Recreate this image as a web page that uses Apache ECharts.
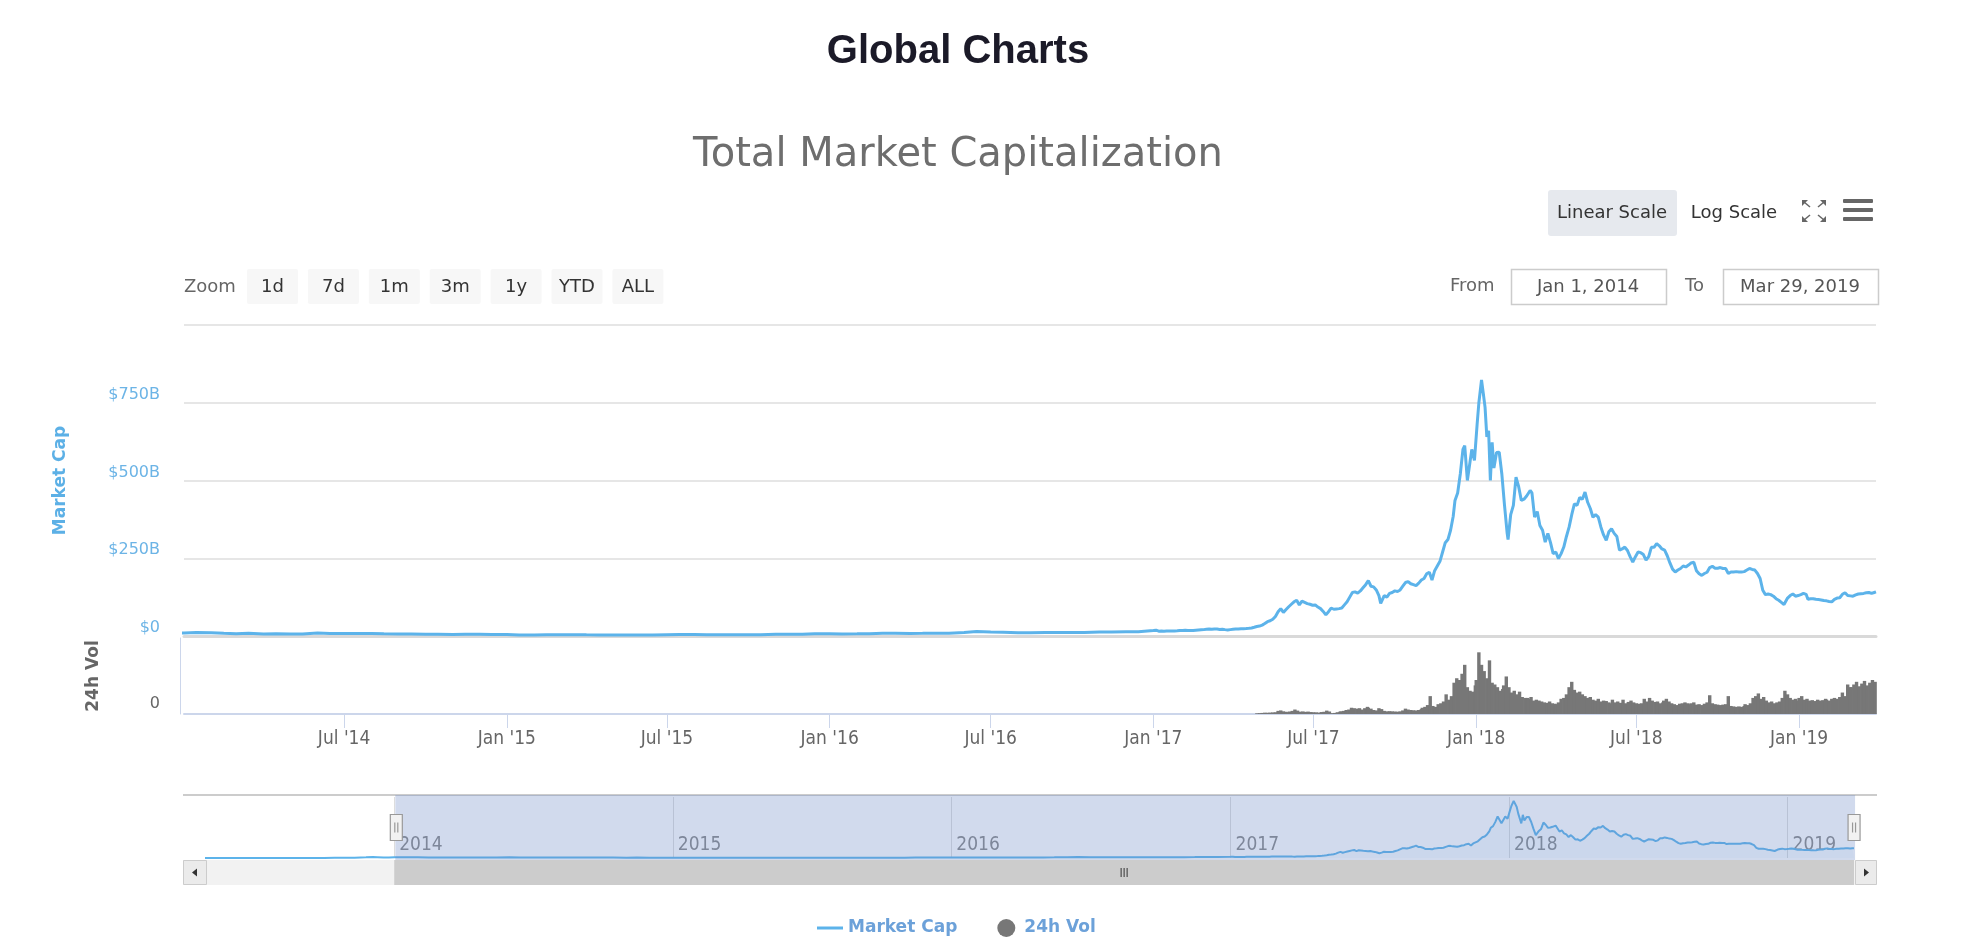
<!DOCTYPE html>
<html><head><meta charset="utf-8">
<script src="https://cdn.jsdelivr.net/npm/echarts@6/dist/echarts.min.js"></script>
<style>html,body{margin:0;padding:0;background:#fff;}#c{width:1964px;height:941px;}</style>
</head><body><div id="c"></div>
<script>
// ---------------- DATA ----------------
const capDates = [
 '2013-04-28','2013-05-15','2013-06-01','2013-06-15','2013-07-01','2013-07-15','2013-08-01','2013-08-15','2013-09-01','2013-09-15','2013-10-01','2013-10-15','2013-11-01','2013-11-10','2013-11-18','2013-11-25','2013-12-04','2013-12-10','2013-12-18','2013-12-25',
 '2014-01-01','2014-01-15','2014-02-01','2014-02-15','2014-03-01','2014-03-15','2014-04-01','2014-04-15','2014-05-01','2014-05-15','2014-06-01','2014-06-15','2014-07-01','2014-07-15','2014-08-01','2014-08-15','2014-09-01','2014-09-15','2014-10-01','2014-10-15','2014-11-01','2014-11-15','2014-12-01','2014-12-15',
 '2015-01-01','2015-01-15','2015-02-01','2015-02-15','2015-03-01','2015-03-15','2015-04-01','2015-04-15','2015-05-01','2015-05-15','2015-06-01','2015-06-15','2015-07-01','2015-07-15','2015-08-01','2015-08-15','2015-09-01','2015-09-15','2015-10-01','2015-10-15','2015-11-01','2015-11-15','2015-12-01','2015-12-15',
 '2016-01-01','2016-01-15','2016-02-01','2016-02-15','2016-03-01','2016-03-15','2016-04-01','2016-04-15','2016-05-01','2016-05-15','2016-06-01','2016-06-15','2016-07-01','2016-07-15','2016-08-01','2016-08-15','2016-09-01','2016-09-15','2016-10-01','2016-10-15','2016-11-01','2016-11-15','2016-12-01','2016-12-15',
 '2017-01-01','2017-01-04','2017-01-07','2017-01-10','2017-01-13','2017-01-16','2017-01-19','2017-01-22','2017-01-25','2017-01-28','2017-01-31',
 '2017-02-03','2017-02-06','2017-02-09','2017-02-12','2017-02-15','2017-02-18','2017-02-21','2017-02-24','2017-02-27',
 '2017-03-02','2017-03-05','2017-03-08','2017-03-11','2017-03-14','2017-03-17','2017-03-20','2017-03-23','2017-03-26','2017-03-29',
 '2017-04-01','2017-04-04','2017-04-07','2017-04-10','2017-04-13','2017-04-16','2017-04-19','2017-04-22','2017-04-25','2017-04-28',
 '2017-05-01','2017-05-04','2017-05-07','2017-05-10','2017-05-13','2017-05-16','2017-05-19','2017-05-22','2017-05-25','2017-05-28','2017-05-31',
 '2017-06-03','2017-06-06','2017-06-09','2017-06-12','2017-06-15','2017-06-18','2017-06-21','2017-06-24','2017-06-27','2017-06-30',
 '2017-07-03','2017-07-06','2017-07-09','2017-07-12','2017-07-15','2017-07-18','2017-07-21','2017-07-24','2017-07-27','2017-07-30',
 '2017-08-02','2017-08-05','2017-08-08','2017-08-11','2017-08-14','2017-08-17','2017-08-20','2017-08-23','2017-08-26','2017-08-29',
 '2017-09-01','2017-09-04','2017-09-07','2017-09-10','2017-09-13','2017-09-15','2017-09-19','2017-09-22','2017-09-25','2017-09-28',
 '2017-10-01','2017-10-04','2017-10-07','2017-10-10','2017-10-13','2017-10-16','2017-10-19','2017-10-22','2017-10-25','2017-10-28','2017-10-31',
 '2017-11-03','2017-11-06','2017-11-09','2017-11-12','2017-11-15','2017-11-18','2017-11-21','2017-11-24','2017-11-27','2017-11-30',
 '2017-12-03','2017-12-06','2017-12-08','2017-12-11','2017-12-14','2017-12-17','2017-12-19','2017-12-22','2017-12-25','2017-12-27','2017-12-30',
 '2018-01-02','2018-01-04','2018-01-07','2018-01-09','2018-01-11','2018-01-13','2018-01-15','2018-01-17','2018-01-19','2018-01-21','2018-01-24','2018-01-27','2018-01-30',
 '2018-02-02','2018-02-05','2018-02-06','2018-02-09','2018-02-12','2018-02-15','2018-02-18','2018-02-21','2018-02-24','2018-02-27',
 '2018-03-03','2018-03-05','2018-03-08','2018-03-11','2018-03-14','2018-03-17','2018-03-20','2018-03-23','2018-03-26','2018-03-29',
 '2018-04-01','2018-04-04','2018-04-07','2018-04-10','2018-04-13','2018-04-16','2018-04-19','2018-04-22','2018-04-25','2018-04-28',
 '2018-05-01','2018-05-04','2018-05-07','2018-05-10','2018-05-13','2018-05-16','2018-05-19','2018-05-22','2018-05-25','2018-05-28','2018-05-31',
 '2018-06-03','2018-06-06','2018-06-09','2018-06-12','2018-06-15','2018-06-18','2018-06-21','2018-06-24','2018-06-27','2018-06-30',
 '2018-07-03','2018-07-06','2018-07-09','2018-07-12','2018-07-15','2018-07-18','2018-07-21','2018-07-24','2018-07-27','2018-07-30',
 '2018-08-02','2018-08-05','2018-08-08','2018-08-11','2018-08-14','2018-08-17','2018-08-20','2018-08-23','2018-08-26','2018-08-29',
 '2018-09-01','2018-09-04','2018-09-07','2018-09-10','2018-09-13','2018-09-16','2018-09-19','2018-09-22','2018-09-25','2018-09-28',
 '2018-10-01','2018-10-04','2018-10-07','2018-10-10','2018-10-13','2018-10-16','2018-10-19','2018-10-22','2018-10-25','2018-10-28','2018-10-31',
 '2018-11-03','2018-11-06','2018-11-09','2018-11-12','2018-11-15','2018-11-18','2018-11-21','2018-11-24','2018-11-27','2018-11-30',
 '2018-12-03','2018-12-06','2018-12-09','2018-12-12','2018-12-15','2018-12-17','2018-12-19','2018-12-22','2018-12-25','2018-12-28','2018-12-31',
 '2019-01-03','2019-01-06','2019-01-09','2019-01-11','2019-01-14','2019-01-17','2019-01-20','2019-01-23','2019-01-26','2019-01-29',
 '2019-02-01','2019-02-04','2019-02-07','2019-02-10','2019-02-13','2019-02-16','2019-02-19','2019-02-22','2019-02-25','2019-02-28',
 '2019-03-03','2019-03-06','2019-03-09','2019-03-12','2019-03-15','2019-03-18','2019-03-21','2019-03-24','2019-03-27','2019-03-29'
];
const capValues = [
 1.6,1.3,1.4,1.2,1.0,1.1,1.2,1.3,1.6,1.6,1.7,2.0,2.6,4.0,7.0,9.5,14.0,11.5,7.0,8.5,
 10.0,11.0,10.5,8.5,7.5,8.5,6.5,7.0,6.5,6.8,9.5,8.3,8.4,8.3,8.0,7.0,6.6,6.4,5.5,5.5,4.8,5.6,5.3,5.0,
 4.8,3.4,3.6,3.8,4.0,4.1,3.7,3.5,3.6,3.5,3.5,3.6,4.2,4.6,4.5,4.1,3.9,3.9,3.9,4.2,5.4,5.6,6.0,7.0,
 7.0,6.4,6.9,7.6,8.6,8.8,8.3,8.5,8.9,9.2,11.5,14.5,12.5,12.0,10.5,10.7,11.1,11.0,11.3,11.6,12.5,12.8,13.6,14.0,
 17.7,18.8,15.5,15.8,14.9,15.8,16.0,16.3,16.4,16.7,17.5,
 17.8,18.2,17.5,17.7,18.0,18.7,19.4,20.0,20.5,
 21.8,22.5,21.6,22.5,22.3,21.0,21.8,20.5,19.4,20.5,
 21.5,22.5,22.7,23.5,23.6,24.0,24.6,25.8,28.0,30.5,
 32,35,40,46,49,54,63,78,88,76,85,
 94,102,110,115,100,112,108,104,102,99,
 100,93,88,79,68,78,90,86,87,88,
 90,100,110,125,140,142,138,145,155,165,
 178,160,158,148,130,105,130,125,137,140,
 145,143,148,160,172,175,168,165,162,170,180,
 185,200,205,180,210,225,240,270,300,310,
 340,385,436,460,521,600,612,500,560,600,565,
 680,750,823,780,735,640,660,500,623,540,590,591,520,
 420,330,310,390,420,511,480,436,440,450,
 468,460,382,400,355,340,302,330,300,265,
 270,249,265,286,320,350,390,425,420,445,
 440,463,430,410,382,390,382,350,325,308,335,
 345,330,320,276,280,286,275,255,238,255,
 270,268,262,244,255,285,285,297,290,280,
 276,258,235,215,206,212,217,225,222,228,
 235,237,210,200,195,201,205,220,224,218,
 218,220,217,217,201,206,206,207,206,206,207,
 212,217,214,212,201,185,147,133,135,133,
 128,120,115,108,101,99,122,130,135,128,130,
 133,137,134,118,120,120,118,117,116,114,
 113,111,110,118,122,123,134,139,130,129,
 128,132,135,136,137,139,140,137,140,142
];
const volDates = [
 '2017-04-28',
 '2017-05-01','2017-05-04','2017-05-07','2017-05-10','2017-05-13','2017-05-16','2017-05-19','2017-05-22','2017-05-25','2017-05-28','2017-05-31',
 '2017-06-01','2017-06-04','2017-06-07','2017-06-10','2017-06-13','2017-06-16','2017-06-19','2017-06-22','2017-06-25','2017-06-28',
 '2017-07-01','2017-07-04','2017-07-07','2017-07-10','2017-07-13','2017-07-16','2017-07-19','2017-07-22','2017-07-25','2017-07-28','2017-07-31',
 '2017-08-01','2017-08-04','2017-08-07','2017-08-10','2017-08-13','2017-08-16','2017-08-19','2017-08-22','2017-08-25','2017-08-28','2017-08-31',
 '2017-09-01','2017-09-04','2017-09-07','2017-09-10','2017-09-13','2017-09-16','2017-09-19','2017-09-22','2017-09-25','2017-09-28',
 '2017-10-01','2017-10-04','2017-10-07','2017-10-10','2017-10-13','2017-10-16','2017-10-19','2017-10-22','2017-10-25','2017-10-28','2017-10-31',
 '2017-11-01','2017-11-04','2017-11-07','2017-11-10','2017-11-13','2017-11-16','2017-11-19','2017-11-22','2017-11-25','2017-11-28',
 '2017-12-01','2017-12-04','2017-12-07','2017-12-10','2017-12-13','2017-12-16','2017-12-19','2017-12-22','2017-12-25','2017-12-28','2017-12-31',
 '2018-01-01','2018-01-04','2018-01-07','2018-01-10','2018-01-13','2018-01-16','2018-01-19','2018-01-22','2018-01-25','2018-01-28','2018-01-31',
 '2018-02-01','2018-02-04','2018-02-07','2018-02-10','2018-02-13','2018-02-16','2018-02-19','2018-02-22','2018-02-25','2018-02-28',
 '2018-03-01','2018-03-04','2018-03-07','2018-03-10','2018-03-13','2018-03-16','2018-03-19','2018-03-22','2018-03-25','2018-03-28','2018-03-31',
 '2018-04-01','2018-04-04','2018-04-07','2018-04-10','2018-04-13','2018-04-16','2018-04-19','2018-04-22','2018-04-25','2018-04-28',
 '2018-05-01','2018-05-04','2018-05-07','2018-05-10','2018-05-13','2018-05-16','2018-05-19','2018-05-22','2018-05-25','2018-05-28','2018-05-31',
 '2018-06-01','2018-06-04','2018-06-07','2018-06-10','2018-06-13','2018-06-16','2018-06-19','2018-06-22','2018-06-25','2018-06-28',
 '2018-07-01','2018-07-04','2018-07-07','2018-07-10','2018-07-13','2018-07-16','2018-07-19','2018-07-22','2018-07-25','2018-07-28','2018-07-31',
 '2018-08-01','2018-08-04','2018-08-07','2018-08-10','2018-08-13','2018-08-16','2018-08-19','2018-08-22','2018-08-25','2018-08-28','2018-08-31',
 '2018-09-01','2018-09-04','2018-09-07','2018-09-10','2018-09-13','2018-09-16','2018-09-19','2018-09-22','2018-09-25','2018-09-28',
 '2018-10-01','2018-10-04','2018-10-07','2018-10-10','2018-10-13','2018-10-16','2018-10-19','2018-10-22','2018-10-25','2018-10-28','2018-10-31',
 '2018-11-01','2018-11-04','2018-11-07','2018-11-10','2018-11-13','2018-11-16','2018-11-19','2018-11-22','2018-11-25','2018-11-28',
 '2018-12-01','2018-12-04','2018-12-07','2018-12-10','2018-12-13','2018-12-16','2018-12-19','2018-12-22','2018-12-25','2018-12-28','2018-12-31',
 '2019-01-01','2019-01-04','2019-01-07','2019-01-10','2019-01-13','2019-01-16','2019-01-19','2019-01-22','2019-01-25','2019-01-28','2019-01-31',
 '2019-02-01','2019-02-04','2019-02-07','2019-02-10','2019-02-13','2019-02-16','2019-02-19','2019-02-22','2019-02-25','2019-02-28',
 '2019-03-01','2019-03-04','2019-03-07','2019-03-10','2019-03-13','2019-03-16','2019-03-19','2019-03-22','2019-03-25','2019-03-28'
];
const volValues = [
 0.8,
 1.0,1.2,1.5,1.4,1.6,1.8,2.0,3.5,4.0,3.0,2.5,
 2.0,2.8,3.5,5.0,3.8,2.6,2.9,2.4,2.7,2.2,
 2.0,1.9,1.6,2.2,2.5,3.8,2.8,1.0,1.2,2.0,2.6,
 3.0,3.5,4.5,5.0,7.0,6.5,6.0,6.5,5.0,6.5,8.0,
 7.0,6.0,4.5,4.0,6.5,5.5,3.5,3.0,3.2,3.0,
 2.8,2.6,3.0,4.0,6.0,5.0,4.5,4.2,4.0,4.5,5.5,
 7.0,8.0,10.0,20.0,9.0,8.0,11.0,12.0,14.0,22.0,
 16.0,20.0,35.0,40.0,38.0,45.0,55.0,30.0,26.0,25.0,32.0,
 38.0,69.0,55.0,48.0,40.0,60.0,35.0,33.0,30.0,26.0,28.0,
 32.0,42.0,30.0,24.0,26.0,22.0,25.0,19.0,18.0,18.0,
 17.0,19.0,15.0,16.0,15.0,14.0,13.0,12.5,14.0,12.0,11.5,
 11.0,13.0,17.0,18.0,22.0,30.0,36.0,27.0,24.0,25.0,
 22.0,20.0,18.0,19.0,16.0,15.0,17.0,14.0,15.0,14.5,13.0,
 12.0,16.0,13.0,14.0,12.5,16.0,12.0,13.5,15.0,13.0,
 12.0,11.5,12.0,17.0,14.0,18.0,15.0,13.5,14.0,12.0,13.0,
 15.0,17.0,14.0,12.0,11.0,10.0,11.5,12.0,13.0,12.0,11.0,
 12.0,13.0,10.5,11.0,10.0,11.5,13.0,21.0,12.0,11.0,
 10.5,10.0,10.5,11.0,20.0,9.0,8.5,8.0,8.5,8.0,9.0,
 11.0,10.0,12.0,18.0,20.0,23.0,17.0,19.0,15.0,13.0,
 14.0,12.0,13.0,14.0,18.0,26.0,22.0,18.0,16.0,17.0,15.0,
 18.0,20.0,16.0,17.0,15.0,15.5,14.5,16.0,15.0,15.5,17.0,
 16.0,15.0,17.0,18.0,17.0,19.0,24.0,20.0,33.0,30.0,
 30.0,33.0,36.0,31.0,34.0,37.0,32.0,35.0,38.0,36.0
];
const xTickDates = ['2014-07-01','2015-01-01','2015-07-01','2016-01-01','2016-07-01','2017-01-01','2017-07-01','2018-01-01','2018-07-01','2019-01-01'];
const xTickLabels = ["Jul '14","Jan '15","Jul '15","Jan '16","Jul '16","Jan '17","Jul '17","Jan '18","Jul '18","Jan '19"];
const yTickValues = [0, 250, 500, 750];
const yTickLabels = ['$0', '$250B', '$500B', '$750B'];
const navTickDates = ['2014-01-01','2015-01-01','2016-01-01','2017-01-01','2018-01-01','2019-01-01'];
const navTickLabels = ['2014','2015','2016','2017','2018','2019'];
const zoomButtons = ['1d','7d','1m','3m','1y','YTD','ALL'];
const viewStart = '2014-01-01';
const viewEnd = '2019-03-29';
const rangeFromText = 'Jan 1, 2014';
const rangeToText = 'Mar 29, 2019';

// ---------------- BUILD ----------------
const FONT = 'DejaVu Sans';
const NARROW = '"DejaVu Sans Condensed", "DejaVu Sans", sans-serif';
const CAP_COLOR = '#5cb3ea';
function toTime(s) { const p = s.split('-').map(Number); return Date.UTC(p[0], p[1] - 1, p[2]); }
const capData = capDates.map((d, i) => [toTime(d), capValues[i]]);
const volData = volDates.map((d, i) => [toTime(d), volValues[i]]);
const xTickTimes = xTickDates.map(toTime);
const navTickTimes = navTickDates.map(toTime);
function labelFor(times, labels) { return function (v) { const i = times.indexOf(v); return i >= 0 ? labels[i] : ''; }; }

const chart = echarts.init(document.getElementById('c'), null, { renderer: 'canvas' });

function uiText(text, x, y, extra) {
  return { type: 'text', x: x, y: y, silent: true, z: 10,
    style: Object.assign({ text: text, fontFamily: FONT, fontSize: 18, fill: '#333', align: 'center', verticalAlign: 'middle' }, extra || {}) };
}
const graphics = [];
graphics.push(uiText('Global Charts', 958, 52, { fontFamily: '"Liberation Sans", Arial, sans-serif', fontWeight: 'bold', fontSize: 40, fill: '#1b1a28' }));
graphics.push(uiText('Total Market Capitalization', 958, 156, { fontSize: 40, fill: '#6e6e6e' }));
graphics.push({ type: 'rect', silent: true, shape: { x: 1548, y: 190, width: 129, height: 46, r: 3 }, style: { fill: '#e6e9ee' } });
graphics.push(uiText('Linear Scale', 1612, 213));
graphics.push(uiText('Log Scale', 1734, 213));
(function () {
  const cx = 1814, cy = 211;
  [[-1, -1], [1, -1], [-1, 1], [1, 1]].forEach(function (s) {
    graphics.push({ type: 'line', silent: true, shape: { x1: cx + s[0] * 4, y1: cy + s[1] * 4, x2: cx + s[0] * 10, y2: cy + s[1] * 9 }, style: { stroke: '#666', lineWidth: 1.5 } });
    graphics.push({ type: 'polygon', silent: true, shape: { points: [[cx + s[0] * 12, cy + s[1] * 11], [cx + s[0] * 6, cy + s[1] * 11], [cx + s[0] * 12, cy + s[1] * 5]] }, style: { fill: '#666' } });
  });
})();
[201, 210, 219].forEach(function (y) {
  graphics.push({ type: 'rect', silent: true, shape: { x: 1843, y: y - 2, width: 30, height: 4, r: 1 }, style: { fill: '#666' } });
});
graphics.push(uiText('Zoom', 184, 287, { align: 'left', fill: '#666' }));
zoomButtons.forEach(function (b, i) {
  const x = 247 + i * 60.9;
  graphics.push({ type: 'rect', silent: true, shape: { x: x, y: 269, width: 51, height: 35, r: 2 }, style: { fill: '#f7f7f7' } });
  graphics.push(uiText(b, x + 25.5, 287));
});
graphics.push(uiText('From', 1450, 286, { align: 'left', fill: '#666' }));
graphics.push({ type: 'rect', silent: true, shape: { x: 1511.5, y: 269.5, width: 155, height: 35 }, style: { fill: '#fff', stroke: '#cccccc', lineWidth: 1.5 } });
graphics.push(uiText(rangeFromText, 1588, 287, { fill: '#555' }));
graphics.push(uiText('To', 1685, 286, { align: 'left', fill: '#666' }));
graphics.push({ type: 'rect', silent: true, shape: { x: 1723.5, y: 269.5, width: 155, height: 35 }, style: { fill: '#fff', stroke: '#cccccc', lineWidth: 1.5 } });
graphics.push(uiText(rangeToText, 1800, 287, { fill: '#555' }));
graphics.push({ type: 'line', silent: true, shape: { x1: 183, y1: 795, x2: 1877, y2: 795 }, style: { stroke: '#cccccc', lineWidth: 2 } });

const option = {
  animation: false,
  backgroundColor: '#ffffff',
  grid: [
    { left: 184, right: 88, top: 325, height: 311 },
    { left: 184, right: 88, top: 638, height: 76 },
    { left: 205, right: 110, top: 797, height: 61 }
  ],
  xAxis: [
    { gridIndex: 0, type: 'value', min: toTime(capDates[0]), max: toTime(viewEnd),
      axisLine: { show: true, onZero: false, lineStyle: { color: '#d9d9d9', width: 3 } },
      axisTick: { show: false }, axisLabel: { show: false }, splitLine: { show: false } },
    { gridIndex: 1, type: 'value', min: toTime(viewStart), max: toTime(viewEnd),
      axisLine: { show: true, onZero: false, lineStyle: { color: '#ccd6eb', width: 2 } },
      axisTick: { show: true, customValues: xTickTimes, length: 14, lineStyle: { color: '#ccd6eb', width: 1 } },
      axisLabel: { customValues: xTickTimes, formatter: labelFor(xTickTimes, xTickLabels),
        margin: 16, color: '#666', fontSize: 19, fontFamily: NARROW },
      splitLine: { show: false } },
    { gridIndex: 2, type: 'value', min: toTime(capDates[0]), max: toTime(viewEnd),
      axisLine: { show: false }, axisTick: { show: false, customValues: navTickTimes },
      axisLabel: { inside: true, customValues: navTickTimes, formatter: labelFor(navTickTimes, navTickLabels),
        align: 'left', padding: [0, 0, 0, 5], margin: 3, color: '#888', fontSize: 19, fontFamily: NARROW },
      splitLine: { show: true, lineStyle: { color: '#dddddd', width: 1 } } }
  ],
  yAxis: [
    { gridIndex: 0, type: 'value', min: 0, max: 1000, interval: 250,
      axisLine: { show: false }, axisTick: { show: false },
      axisLabel: { showMaxLabel: false, margin: 24, verticalAlign: 'bottom', color: '#6cb4e6', fontSize: 16, fontFamily: FONT,
        formatter: function (v) { const i = yTickValues.indexOf(v); return i >= 0 ? yTickLabels[i] : ''; } },
      splitLine: { lineStyle: { color: '#e6e6e6', width: 2 } },
      name: 'Market Cap', nameLocation: 'middle', nameGap: 115,
      nameTextStyle: { color: '#5cb0e6', fontWeight: 'bold', fontSize: 17, fontFamily: FONT } },
    { gridIndex: 1, type: 'value', min: 0, max: 85, interval: 85, offset: 4,
      axisLine: { show: true, lineStyle: { color: '#ccd6eb', width: 1 } }, axisTick: { show: false },
      axisLabel: { showMaxLabel: false, margin: 20, verticalAlign: 'bottom', padding: [0, 0, 2, 0], color: '#666', fontSize: 16, fontFamily: FONT,
        formatter: function (v) { return v === 0 ? '0' : ''; } },
      splitLine: { show: false },
      name: '24h Vol', nameLocation: 'middle', nameGap: 78,
      nameTextStyle: { color: '#666', fontWeight: 'bold', fontSize: 17, fontFamily: FONT } },
    { gridIndex: 2, type: 'value', min: 0, max: 880, show: false, splitLine: { show: false } }
  ],
  dataZoom: [{
    type: 'slider', xAxisIndex: 0, filterMode: 'none',
    startValue: toTime(viewStart), endValue: toTime(viewEnd),
    left: 205, right: 110, top: 795, height: 65,
    showDataShadow: false, showDetail: false, brushSelect: false, moveHandleSize: 0,
    backgroundColor: 'rgba(0,0,0,0)', borderColor: 'rgba(0,0,0,0)',
    fillerColor: 'rgba(102,133,194,0.3)',
    handleIcon: 'path://M0,0L12,0L12,26L0,26Z M4.5,8L4.5,18 M7.5,8L7.5,18',
    handleSize: 26,
    handleStyle: { color: '#f2f2f2', borderColor: '#999999', borderWidth: 1.2 }
  }],
  legend: {
    left: 812, top: 914, itemWidth: 26, itemHeight: 18, itemGap: 40, selectedMode: false,
    textStyle: { color: '#6ca1d9', fontSize: 17, fontWeight: 'bold', fontFamily: FONT },
    data: [ { name: 'Market Cap', icon: 'path://M0,0L26,0L26,3L0,3Z' }, { name: '24h Vol', icon: 'circle' } ]
  },
  series: [
    { name: 'Market Cap', type: 'line', xAxisIndex: 0, yAxisIndex: 0, data: capData,
      showSymbol: false, color: CAP_COLOR, lineStyle: { color: CAP_COLOR, width: 3 }, z: 3 },
    { name: '24h Vol', type: 'bar', xAxisIndex: 1, yAxisIndex: 1, data: volData,
      barWidth: 3.4, color: '#777777', itemStyle: { color: '#777777' } },
    { name: 'nav', type: 'line', xAxisIndex: 2, yAxisIndex: 2, data: capData,
      showSymbol: false, lineStyle: { color: CAP_COLOR, width: 2 }, areaStyle: { color: 'rgba(92,179,234,0.08)' } }
  ],
  graphic: { elements: graphics }
};
chart.setOption(option);

const xL = chart.convertToPixel({ xAxisIndex: 2 }, toTime(viewStart));
const xR = chart.convertToPixel({ xAxisIndex: 2 }, toTime(viewEnd));
const yS = 860, hS = 25;
graphics.push({ type: 'rect', silent: true, shape: { x: 183, y: yS, width: 1694, height: hS }, style: { fill: '#f2f2f2' } });
graphics.push({ type: 'rect', silent: true, shape: { x: xL, y: yS, width: xR - xL, height: hS }, style: { fill: '#cccccc' } });
graphics.push({ type: 'rect', silent: true, shape: { x: 183.5, y: yS + 0.5, width: 23, height: hS - 1 }, style: { fill: '#ebebeb', stroke: '#cccccc', lineWidth: 1 } });
graphics.push({ type: 'polygon', silent: true, shape: { points: [[192, yS + 12.5], [197, yS + 8.5], [197, yS + 16.5]] }, style: { fill: '#333' } });
graphics.push({ type: 'rect', silent: true, shape: { x: 1855.5, y: yS + 0.5, width: 21, height: hS - 1 }, style: { fill: '#ebebeb', stroke: '#cccccc', lineWidth: 1 } });
graphics.push({ type: 'polygon', silent: true, shape: { points: [[1869, yS + 12.5], [1864, yS + 8.5], [1864, yS + 16.5]] }, style: { fill: '#333' } });
const gx = (xL + xR) / 2;
[-3, 0, 3].forEach(function (dx) {
  graphics.push({ type: 'line', silent: true, shape: { x1: gx + dx, y1: yS + 8, x2: gx + dx, y2: yS + 17 }, style: { stroke: '#333', lineWidth: 1 } });
});
chart.setOption({ graphic: { elements: graphics } });
</script>
</body></html>
